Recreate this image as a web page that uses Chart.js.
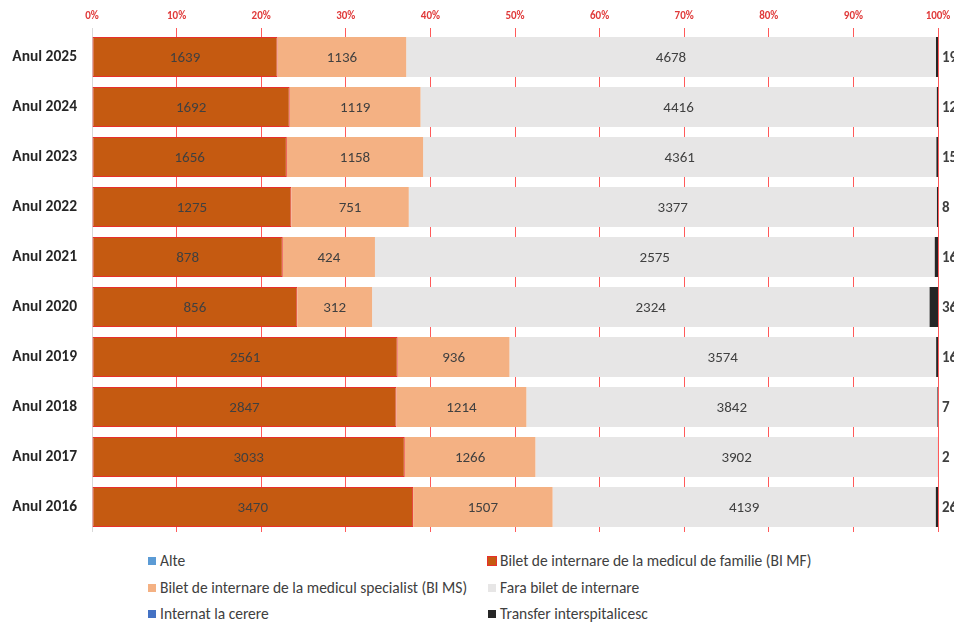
<!DOCTYPE html>
<html>
<head>
<meta charset="utf-8">
<script src="https://cdn.jsdelivr.net/npm/chart.js@4"></script>
<style>
  html, body { margin: 0; padding: 0; background: #fff; }
  #wrap { position: relative; width: 954px; height: 623px; overflow: hidden; }
  #chart { position: absolute; left: 0; top: 0; }
  #legend {
    position: absolute; left: 148px; top: 551px;
    display: grid; grid-template-columns: 340px 420px; row-gap: 6px;
    font-family: Carlito, Lato, sans-serif; font-size: 15.5px; color: #404040;
    white-space: nowrap;
  }
  #legend div { line-height: 20.5px; }
  #legend span.box { display: inline-block; width: 8px; height: 8px; margin-right: 4px; vertical-align: 1px; }
</style>
</head>
<body>
<div id="wrap">
  <canvas id="chart" width="954" height="545"></canvas>
  <div id="legend"></div>
</div>
<script>
const categories = ['Anul 2025', 'Anul 2024', 'Anul 2023', 'Anul 2022', 'Anul 2021',
                    'Anul 2020', 'Anul 2019', 'Anul 2018', 'Anul 2017', 'Anul 2016'];
const alte     = [0, 0, 0, 0, 0, 0, 0, 0, 0, 0];
const biMF     = [1639, 1692, 1656, 1275, 878, 856, 2561, 2847, 3033, 3470];
const biMS     = [1136, 1119, 1158, 751, 424, 312, 936, 1214, 1266, 1507];
const faraBilet = [4678, 4416, 4361, 3377, 2575, 2324, 3574, 3842, 3902, 4139];
const laCerere = [0, 0, 0, 0, 0, 0, 0, 0, 0, 0];
const transfer = [19, 12, 15, 8, 16, 36, 16, 7, 2, 26];
const xTicks = [0, 10, 20, 30, 40, 50, 60, 70, 80, 90, 100];

const series = [
  { label: 'Alte', values: alte, color: '#5b9bd5' },
  { label: 'Bilet de internare de la medicul de familie (BI MF)', values: biMF, color: '#c55a11', border: '#e8302c' },
  { label: 'Bilet de internare de la medicul specialist (BI MS)', values: biMS, color: '#f4b183' },
  { label: 'Fara bilet de internare', values: faraBilet, color: '#e7e6e6' },
  { label: 'Internat la cerere', values: laCerere, color: '#4472c4' },
  { label: 'Transfer interspitalicesc', values: transfer, color: '#262626', outside: true }
];

const totals = categories.map((c, i) => series.reduce((s, d) => s + d.values[i], 0));

const datasets = series.map(s => ({
  label: s.label,
  data: s.values.map((v, i) => v / totals[i] * 100),
  raw: s.values,
  outside: !!s.outside,
  backgroundColor: s.color,
  borderColor: s.border || s.color,
  borderWidth: s.border ? 1 : 0,
  borderSkipped: false,
  categoryPercentage: 0.8,
  barPercentage: 1
}));

const FONT = 'Carlito, Lato, sans-serif';

// value labels drawn on the bars
const barLabels = {
  id: 'barLabels',
  afterDatasetsDraw(chart) {
    const ctx = chart.ctx;
    ctx.save();
    ctx.textBaseline = 'middle';
    chart.data.datasets.forEach((ds, di) => {
      const meta = chart.getDatasetMeta(di);
      meta.data.forEach((bar, i) => {
        const v = ds.raw[i];
        if (!v) return;
        ctx.fillStyle = '#404040';
        if (ds.outside) {
          ctx.font = 'bold 15px ' + FONT;
          ctx.textAlign = 'left';
          ctx.fillText(String(v), bar.x + 4, bar.y + 1);
        } else {
          ctx.font = '15px ' + FONT;
          ctx.textAlign = 'center';
          ctx.fillText(String(v), (bar.x + bar.base) / 2, bar.y + 1);
        }
      });
    });
    ctx.restore();
  }
};

new Chart(document.getElementById('chart'), {
  type: 'bar',
  data: { labels: categories, datasets: datasets },
  plugins: [barLabels],
  options: {
    indexAxis: 'y',
    responsive: false,
    animation: false,
    layout: { padding: { left: 0, right: 16, top: 0, bottom: 13 } },
    plugins: {
      legend: { display: false },
      tooltip: { enabled: false }
    },
    scales: {
      x: {
        position: 'top',
        stacked: true,
        min: 0, max: 100,
        afterBuildTicks(axis) { axis.ticks = xTicks.map(v => ({ value: v })); },
        afterFit(axis) { axis.height = 32; axis.paddingLeft = 0; axis.paddingRight = 0; },
        border: { display: false },
        grid: {
          color: ctx => ctx.index === 0 ? '#d9d9d9' : '#ff5a5a',
          drawTicks: true,
          tickLength: 4,
          tickColor: ctx => ctx.index === 0 ? '#d9d9d9' : '#ff5a5a'
        },
        ticks: {
          color: '#e03a3a',
          font: { family: FONT, size: 11, weight: 'bold' },
          padding: 5,
          callback: v => v + '%'
        }
      },
      y: {
        stacked: true,
        afterFit(axis) { axis.width = 92; axis.paddingTop = 0; axis.paddingBottom = 0; },
        border: { display: false },
        grid: { display: false, drawTicks: false },
        ticks: {
          color: '#262626',
          font: { family: FONT, size: 15.5, weight: 'bold' },
          padding: 15
        }
      }
    }
  }
});

// legend in two columns, same order as the source
const legend = document.getElementById('legend');
series.forEach(s => {
  const item = document.createElement('div');
  const box = document.createElement('span');
  box.className = 'box';
  box.style.background = s.color;
  if (s.border) box.style.outline = '1px solid ' + s.border;
  item.appendChild(box);
  item.appendChild(document.createTextNode(s.label));
  legend.appendChild(item);
});
</script>
</body>
</html>
